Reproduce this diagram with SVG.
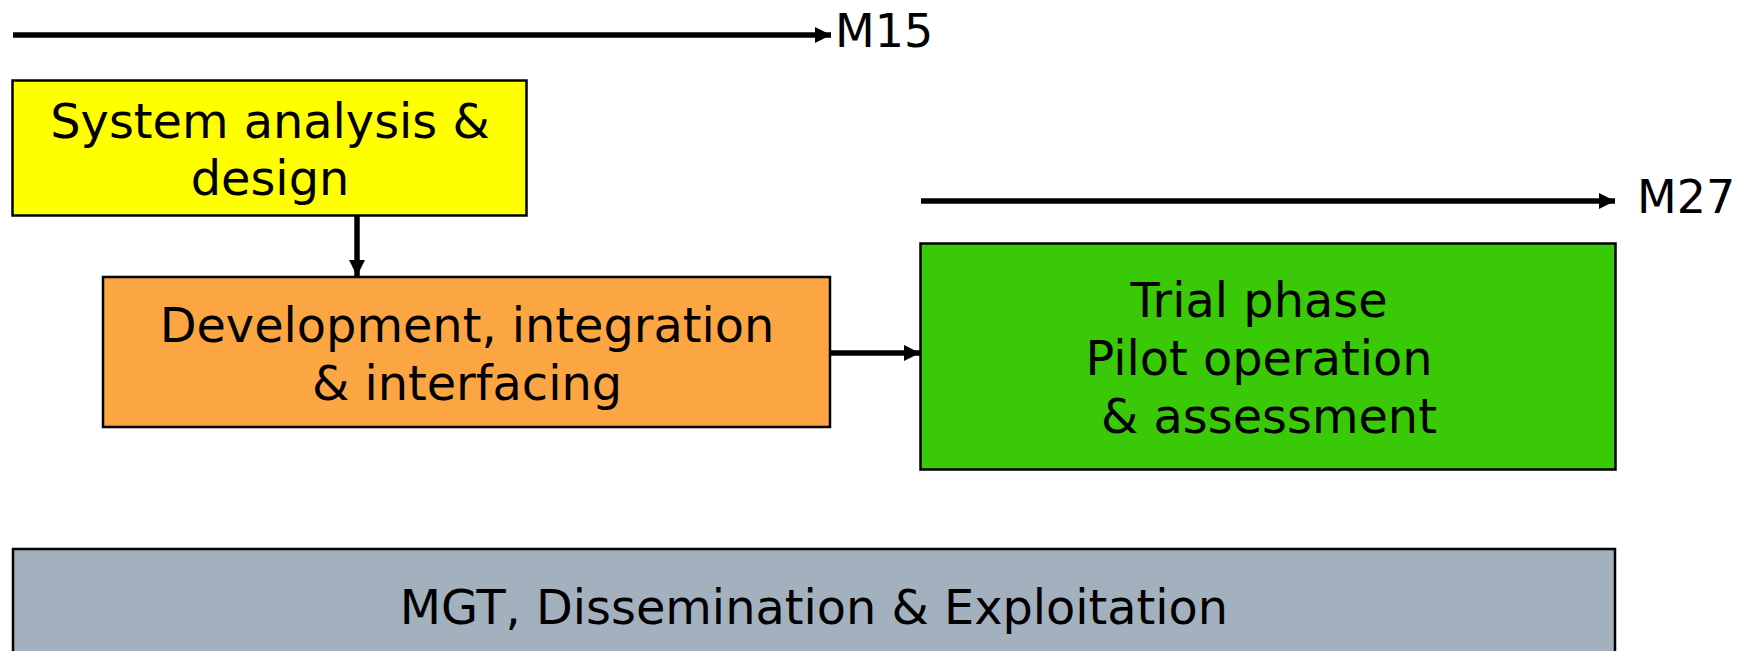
<svg xmlns="http://www.w3.org/2000/svg" width="1749" height="651" viewBox="0 0 1749 651">
<defs>
<marker id="ah" markerUnits="userSpaceOnUse" markerWidth="18" markerHeight="18" refX="16" refY="9" orient="auto">
<path d="M0,1 L16,9 L0,17 Z" fill="#000"/>
</marker>
<style>
.box{stroke:#000;stroke-width:2.5}
.t{font-family:"DejaVu Sans",Verdana,sans-serif;font-size:47.8px;fill:#000;text-anchor:middle}
.lbl{font-family:"DejaVu Sans",Verdana,sans-serif;font-size:46px;fill:#000}
.ln{stroke:#000;stroke-width:5.5;fill:none;marker-end:url(#ah)}
</style>
</defs>
<rect width="1749" height="651" fill="#fff"/>
<g id="connectors">
<line class="ln" x1="13" y1="35" x2="831" y2="35"/>
<line class="ln" x1="921" y1="201" x2="1615" y2="201"/>
<line class="ln" x1="357" y1="216" x2="357" y2="276"/>
<line class="ln" x1="830" y1="353" x2="920" y2="353"/>
</g>
<g id="m15"><text class="lbl" x="835" y="47">M15</text></g>
<g id="m27"><text class="lbl" x="1637" y="213">M27</text></g>
<g id="system">
<rect class="box" x="12.5" y="80.5" width="514" height="135" fill="#FFFF00"/>
<text class="t" x="270" y="138">System analysis &amp;</text>
<text class="t" x="270" y="195">design</text>
</g>
<g id="development">
<rect class="box" x="103" y="277" width="727" height="150" fill="#FBA543"/>
<text class="t" x="467" y="342">Development, integration</text>
<text class="t" x="467" y="400">&amp; interfacing</text>
</g>
<g id="trial">
<rect class="box" x="920.5" y="243.5" width="695" height="226" fill="#39C907"/>
<text class="t" x="1259" y="317">Trial phase</text>
<text class="t" x="1259" y="375">Pilot operation</text>
<text class="t" x="1269" y="433">&amp; assessment</text>
</g>
<g id="mgt">
<rect class="box" x="13" y="549" width="1602" height="120" fill="#A3B1BF"/>
<text class="t" x="814" y="624">MGT, Dissemination &amp; Exploitation</text>
</g>
</svg>
